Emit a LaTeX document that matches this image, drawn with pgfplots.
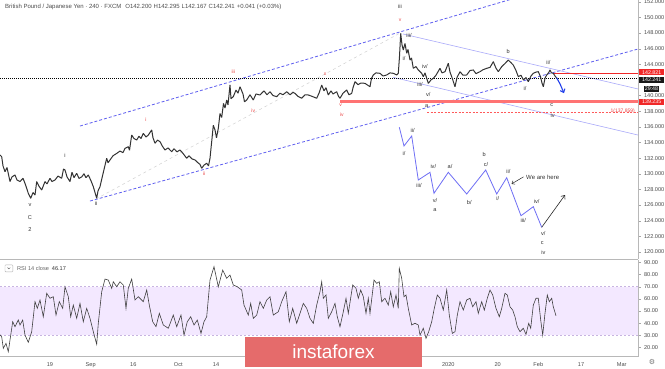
\documentclass[border=0pt]{standalone}
\usepackage{fontspec}
\setmainfont{Liberation Sans}
\newfontfamily\dejavu{DejaVu Sans}
\usepackage{pgfplots}
\pgfplotsset{compat=1.18}
\usetikzlibrary{arrows.meta}
\definecolor{chanblue}{RGB}{95,95,240}
\definecolor{lightblue}{RGB}{170,170,250}
\definecolor{zigblue}{RGB}{110,110,245}
\definecolor{arrowblue}{RGB}{35,65,235}
\definecolor{levelred}{RGB}{255,90,90}
\definecolor{softred}{RGB}{255,115,115}
\definecolor{tvred}{RGB}{240,40,40}
\definecolor{wred}{RGB}{235,70,70}
\definecolor{rsifill}{RGB}{243,232,255}
\definecolor{rsidash}{RGB}{200,180,225}
\definecolor{logored}{RGB}{229,107,107}
\newcommand{\fs}{\fontsize{5.6}{6}\selectfont}
\begin{document}
\begin{tikzpicture}[x=1pt,y=1pt]
\useasboundingbox (0,0) rectangle (665,-368);
\fill[white] (0,0) rectangle (665,-368);
% ---------------- main price panel ----------------
\begin{axis}[at={(0pt,0pt)}, anchor=north west, scale only axis,
  width=638pt, height=259pt,
  xmin=0, xmax=638, ymin=119.097, ymax=152.217,
  axis x line*=bottom, axis y line*=right,
  axis line style={-, draw=black!28, line width=0.7pt},
  xtick=\empty,
  ytick={120,122,...,140,144,146,...,152},
  yticklabel style={font=\fs, text=black!70, /pgf/number format/fixed, /pgf/number format/fixed zerofill, /pgf/number format/precision=3},
  /pgf/number format/assume math mode=true,
  tick align=outside, major tick length=2.5pt, tick style={black!35},
  ]
% faint ii-iii line
\addplot[black!18, dashed, line width=0.5pt] coordinates {(96,126.77) (400,147.99)};
% blue dashed channel
\addplot[chanblue, line width=0.8pt, dash pattern=on 3pt off 2pt] coordinates {(80,136.1) (540,153.4)};
\addplot[chanblue, line width=0.8pt, dash pattern=on 3pt off 2pt] coordinates {(90,126.51) (638,145.95)};
% light blue descending channel
\addplot[lightblue, line width=0.6pt] coordinates {(403,147.87) (638,140.84)};
\addplot[lightblue, line width=0.6pt] coordinates {(393,142.33) (638,134.95)};
% horizontal levels
\addplot[black, line width=0.5pt, dash pattern=on 1pt off 1pt] coordinates {(0,142.241) (638,142.241)};
\addplot[color=softred, solid, line width=2.2pt] coordinates {(340,139.235) (638,139.235)};
\addplot[color=tvred, solid, line width=0.9pt] coordinates {(553,142.821) (638,142.821)};
\addplot[color=levelred, line width=0.7pt, dash pattern=on 2pt off 1.5pt] coordinates {(427,137.859) (638,137.859)};
% price (4h closes)
\addplot[black!80, line width=1.0pt, line join=bevel] coordinates {
(0,132.4)(1.7,132.18)(3,131.0)(5,130.26)(7,130.8)(10,129.0)(12,129.6)(15,129.84)(17,129.2)(20,129.0)(23,129.42)(25.5,128.6)(28.3,127.5)(30.7,126.86)(33,127.6)(35,127.28)(36.7,129.0)(39,128.4)(41.7,127.92)(45,129.0)(47,128.7)(50,129.42)(52,129.0)(55,129.2)(58,129.7)(61.7,129.42)(63.5,130.6)(65,130.48)(67,129.6)(70,129.0)(72,130.2)(74,129.5)(76.7,130.06)(79,129.4)(81.7,129.6)(84,130.0)(86,129.5)(88.3,129.84)(91,129.1)(93.3,128.35)(95,127.6)(96.7,126.86)(98,127.8)(100,128.35)(103,130.0)(106.7,131.98)(108,131.4)(110,131.76)(113,132.3)(116.7,132.6)(120,132.9)(123,132.7)(125,133.25)(128.3,133.46)(129.5,133.0)(131.7,134.95)(134,134.5)(136.7,134.32)(139,134.8)(141,134.5)(143.3,135.17)(146,134.7)(148.3,134.95)(151.7,135.6)(153,134.6)(155,133.9)(157.5,134.3)(160,134.1)(162.5,133.5)(165,133.04)(168,133.3)(171.7,132.82)(174,133.2)(177,132.8)(180,133.04)(183,132.6)(186.7,131.98)(189,132.3)(192,131.9)(195,131.76)(198,131.4)(200,131.2)(201.7,130.7)(204,131.1)(206.7,131.34)(208.5,131.0)(210,131.98)(212,134.5)(213.3,136.2)(215,135.6)(216.5,134.6)(218.3,135.8)(220,137.7)(221.7,137.2)(223.5,139.0)(225,138.4)(226.7,139.43)(228,138.8)(230,141.35)(231,139.6)(233.3,139.86)(236,140.7)(238,140.3)(240,141.13)(243,140.2)(244.5,139.2)(246.7,139.43)(250,140.1)(253.3,139.43)(256,140.2)(260,140.07)(264,140.6)(267,140.1)(270,140.49)(273,140.0)(276.7,139.86)(280,140.3)(283,140.1)(286.7,140.49)(290,140.1)(293,140.4)(295,140.28)(298,139.9)(301.7,139.65)(305,140.1)(308.3,140.07)(312,139.9)(316.7,139.65)(319,140.3)(321.7,141.35)(324,140.6)(326,141.0)(328.3,140.07)(331,140.6)(333,140.2)(336.7,140.49)(338.5,139.9)(340,139.65)(343,140.3)(346.7,140.71)(349,140.1)(351.7,140.28)(353,141.0)(355,141.77)(358,141.4)(361,141.6)(365,141.56)(368,141.3)(370,141.13)(371.5,142.2)(373.3,142.63)(376,142.9)(380,142.84)(383,142.5)(386.7,142.63)(390,142.9)(393.3,142.84)(396.7,142.63)(398.3,142.84)(399.5,145.0)(400.7,147.96)(402,146.5)(403.3,145.82)(405,146.67)(406.7,145.4)(408,145.9)(410,144.54)(411.5,144.8)(413.3,143.48)(416,143.7)(418.3,143.27)(421.7,142.84)(423.3,142.41)(425,142.9)(428.3,141.56)(431,142.0)(433.3,142.2)(436,142.6)(440,143.48)(442,142.9)(445,143.05)(448.3,144.12)(450,143.0)(451.7,142.41)(455,141.13)(457,142.3)(460,143.05)(463,142.6)(466.7,142.63)(470,143.2)(473.3,143.27)(476,142.8)(480,143.05)(483,143.3)(486.7,143.48)(490,143.6)(493.3,144.33)(496,143.5)(498.3,143.05)(501.7,143.69)(505,144.1)(508.3,144.54)(511,144.2)(513.3,143.9)(516,143.2)(518.3,142.41)(521,142.6)(523.3,141.99)(526,142.3)(528.3,141.77)(531,142.5)(533.3,142.84)(536,143.0)(538.3,143.05)(540.5,142.4)(542,141.6)(543.3,141.13)(545,142.2)(546.7,142.63)(548.5,142.9)(550,143.27)(551.5,142.9)(553.3,142.84)(555,142.5)(556.7,142.24)
};
% blue arrow
\addplot[arrowblue, line width=1.1pt, -{Straight Barb[length=3pt,width=5pt]}] coordinates {(556.5,142.3) (560,141.5) (564,140.3)};
% projected zigzag
\addplot[zigblue, line width=0.8pt] coordinates {
(399.3,135.94)(404,133.55)(411.7,134.83)(418.3,129.20)(430,130.18)(434,127.50)(448.3,130.18)(466.7,127.41)(485.7,130.48)(496.7,127.41)(506.7,129.49)(521,124.63)(533.3,125.79)(541.7,123.15)};
\addplot[black!85, line width=0.6pt, -{Straight Barb[length=3pt,width=5pt]}] coordinates {(541.7,123.15) (565,127.28)};
\addplot[black!85, line width=0.5pt, -{Straight Barb[length=2.5pt,width=4pt]}] coordinates {(523.5,129.6) (511.5,128.7)};
% wave labels (black)
\begin{scope}[every node/.style={font=\fs, text=black!80, inner sep=0pt}]
\node at (axis cs:30,126.0) {v};
\node at (axis cs:30,124.43) {C};
\node at (axis cs:30,122.9) {2};
\node at (axis cs:65,132.4) {i};
\node at (axis cs:96,126.22) {ii};
\node at (axis cs:400,151.36) {iii};
\node at (axis cs:409,147.74) {iii/};
\node at (axis cs:404,144.8) {i/};
\node at (axis cs:425,143.69) {iv/};
\node at (axis cs:420,141.35) {iii/};
\node at (axis cs:428.3,140.07) {v/};
\node at (axis cs:426.7,138.66) {a};
\node at (axis cs:508.3,145.6) {b};
\node at (axis cs:525,140.84) {i/};
\node at (axis cs:548.3,144.2) {ii/};
\node at (axis cs:551.7,138.79) {c};
\node at (axis cs:552.7,137.51) {iv};
% projection labels
\node at (axis cs:412.7,135.59) {ii/};
\node at (axis cs:404,132.61) {i/};
\node at (axis cs:419,128.56) {iii/};
\node at (axis cs:433.3,130.9) {iv/};
\node at (axis cs:435,126.55) {v/};
\node at (axis cs:435,125.36) {a};
\node at (axis cs:450,130.9) {a/};
\node at (axis cs:469.3,126.35) {b/};
\node at (axis cs:484.3,132.4) {b};
\node at (axis cs:486,131.21) {c/};
\node at (axis cs:497.7,126.81) {i/};
\node at (axis cs:508.3,130.35) {ii/};
\node[anchor=west, font=\fontsize{6}{7}\selectfont] at (axis cs:526,129.54) {We are here};
\node at (axis cs:523.3,123.99) {iii/};
\node at (axis cs:536.7,126.51) {iv/};
\node at (axis cs:543.3,122.38) {v/};
\node at (axis cs:542.3,121.18) {c};
\node at (axis cs:543.3,119.9) {iv};
\end{scope}
% wave labels (red)
\begin{scope}[every node/.style={font=\fontsize{5}{6}\selectfont, text=wred, inner sep=0pt}]
\node at (axis cs:146,136.87) {i};
\node at (axis cs:204,130.05) {ii};
\node at (axis cs:233.3,143.05) {iii};
\node at (axis cs:253.3,138.09) {iv};
\node at (axis cs:325,142.75) {x};
\node at (axis cs:340.7,138.79) {v};
\node at (axis cs:341.7,137.6) {iv};
\node at (axis cs:400,149.66) {v};
\node[anchor=east] at (axis cs:635,137.95) {1(137.859)};
\end{scope}
\coordinate (b1) at (axis cs:638,142.821);
\coordinate (b2) at (axis cs:638,142.241);
\coordinate (b3) at (axis cs:638,140.925);
\coordinate (b4) at (axis cs:638,139.235);
\end{axis}
% price tags
\begin{scope}[every node/.style={font=\fontsize{5.3}{6}\selectfont, text=white, inner sep=0.6pt, anchor=west, minimum height=6pt, minimum width=25pt}]
\node[fill=tvred] at ([xshift=1pt,yshift=1pt]b1) {142.821};
\node[fill=black!90] at ([xshift=1pt,yshift=-1.8pt]b2) {142.241};
\node[fill=black!90, minimum width=0pt] at ([xshift=6pt,yshift=-0.5pt]b3) {29:48};
\node[fill=tvred] at ([xshift=1pt]b4) {139.235};
\end{scope}
% ---------------- RSI panel ----------------
\begin{axis}[at={(0pt,-260pt)}, anchor=north west, scale only axis,
  width=638pt, height=96.7pt,
  xmin=0, xmax=638, ymin=12.4, ymax=92,
  axis x line*=bottom, axis y line*=right,
  axis line style={-, draw=black!28, line width=0.7pt},
  xtick={50,90.7,133.3,178.3,216,448.3,497.7,538.3,581,621.7},
  xticklabels={19,Sep,16,Oct,14,2020,20,Feb,17,Mar},
  xtick style={draw=none},
  xticklabel style={font=\fs, text=black!70},
  ytick={20,30,...,90},
  yticklabel style={font=\fs, text=black!70, /pgf/number format/fixed, /pgf/number format/fixed zerofill, /pgf/number format/precision=2},
  /pgf/number format/assume math mode=true,
  tick align=outside, major tick length=2.5pt, ytick style={black!35},
  ]
\fill[rsifill] (axis cs:0,30) rectangle (axis cs:638,70);
\addplot[rsidash, line width=0.5pt, dash pattern=on 2pt off 2pt] coordinates {(0,70) (638,70)};
\addplot[rsidash, line width=0.5pt, dash pattern=on 2pt off 2pt] coordinates {(0,30) (638,30)};
\addplot[black!75, line width=0.6pt] coordinates {
(0,30.5)(1.7,28.8)(3.3,19.3)(6,23.4)(8.3,16.5)(10,26.1)(12.7,41.2)(15,37.1)(18.3,42.6)(20,38.5)(22.7,42.6)(25,30.2)(28.3,24.2)(31.7,33.0)(35,57.7)(37.3,52.2)(40,59.1)(43.3,45.3)(46.7,64.6)(50,60.5)(53.3,61.8)(56,46.7)(59.3,57.7)(62.7,52.2)(65,70.0)(68.3,61.8)(70.7,45.3)(73.3,54.9)(76.7,44.0)(80,56.3)(83.3,41.2)(86.7,52.2)(90,44.0)(93.3,33.0)(96.7,22.6)(98.3,39.9)(101.7,65.9)(105,76.3)(108.3,75.5)(111.7,68.7)(113.3,74.1)(116.7,70.0)(120,74.1)(123.3,71.4)(126,52.2)(128.3,68.7)(131.7,76.3)(135,59.1)(138.3,61.8)(143.3,57.7)(146.7,67.3)(149.3,54.9)(152.7,41.2)(156,37.1)(159.3,48.1)(163.3,38.5)(168.3,35.8)(173.3,46.7)(176.7,37.1)(181,46.7)(184,30.2)(187.3,41.2)(190.7,45.3)(194,38.5)(197.3,42.6)(201,31.6)(204,41.2)(206.7,45.3)(210,75.5)(214,86.5)(218.3,70.0)(222.7,83.7)(226.7,76.9)(230,79.6)(233.3,71.4)(237.3,70.0)(241.7,67.3)(244,54.9)(248.3,46.7)(250.7,56.3)(253.3,44.0)(256.7,46.7)(260,57.7)(263.3,52.2)(266.7,59.1)(270,61.8)(273.3,46.7)(278.3,49.4)(281.7,57.7)(286,65.9)(289.3,41.2)(292.7,52.2)(296.7,39.9)(300,48.1)(303.3,56.3)(306.7,52.2)(310,44.0)(313.3,39.9)(316.7,54.9)(320,66.0)(321.7,74.1)(323.3,60.5)(326,63.2)(328.3,44.0)(331.7,49.4)(335,56.3)(337.3,45.3)(340,37.1)(343.3,49.4)(346,60.5)(348.3,48.1)(352.7,71.4)(356,68.7)(358.3,60.5)(360.7,67.3)(363.3,61.8)(366,48.1)(368.3,60.5)(370,48.1)(374,75.5)(376.7,72.8)(379.3,74.1)(381.7,57.7)(385,60.5)(388.3,54.9)(390.7,65.9)(393.3,53.5)(396,63.2)(398.3,52.2)(399.3,85.1)(401.7,76.9)(404,61.8)(406,63.2)(408.3,52.2)(411.7,38.5)(415,39.9)(418.3,38.5)(420,30.2)(423.3,35.8)(426,27.5)(428.7,33.0)(431.7,41.2)(434.3,52.2)(437.3,63.2)(440,60.5)(443.3,50.8)(446.7,67.3)(449.3,46.7)(452.3,31.6)(455,33.0)(457.3,46.7)(460,57.7)(463.3,50.8)(466.7,59.1)(470,60.5)(472.7,53.5)(476,57.7)(478.3,48.1)(481.7,57.7)(484.3,50.8)(487.3,60.5)(490,67.3)(492.7,63.2)(496,52.2)(499.3,45.3)(501.7,52.2)(505,64.6)(507.3,63.2)(510,53.5)(512.7,50.8)(515,45.3)(517.3,37.1)(520,33.0)(523.3,35.8)(526,30.8)(528.7,39.9)(530.7,35.8)(533.3,54.9)(536,60.5)(538.3,60.5)(540.7,42.6)(542.7,30.2)(545,48.1)(547.3,63.2)(549.3,57.7)(551.7,60.5)(553.3,53.5)(556,46.1)
};
\end{axis}
% titles and legend
\node[anchor=west, font=\fontsize{6}{7}\selectfont, text=black!70, inner sep=0pt] at (5,-7) {British Pound / Japanese Yen · 240 · FXCM\hspace{4pt}O142.200\hspace{2pt}H142.295\hspace{2pt}L142.167\hspace{2pt}C142.241\hspace{2pt}+0.041 (+0.03\%)};
\draw[black!30, line width=0.4pt, rounded corners=0.8pt] (5,-264.8) rectangle (12.8,-271.8);
\draw[black!60, line width=0.4pt] (7.6,-267.6) -- (8.9,-268.9) -- (10.2,-267.6);
\node[anchor=west, font=\fs, text=black!60, inner sep=0pt] at (17,-268.3) {RSI 14 close\hspace{3pt}\textcolor{black!80}{46.17}};
\node[font=\dejavu\fontsize{7}{8}\selectfont, text=black!55, inner sep=0pt] at (652,-362.5) {⚙};
% logo
\fill[logored] (245,-336.7) rectangle (422,-366.7);
\node[font=\fontsize{19}{20}\selectfont, text=white, inner sep=0pt] at (333.5,-352) {instaforex};
\end{tikzpicture}
\end{document}
